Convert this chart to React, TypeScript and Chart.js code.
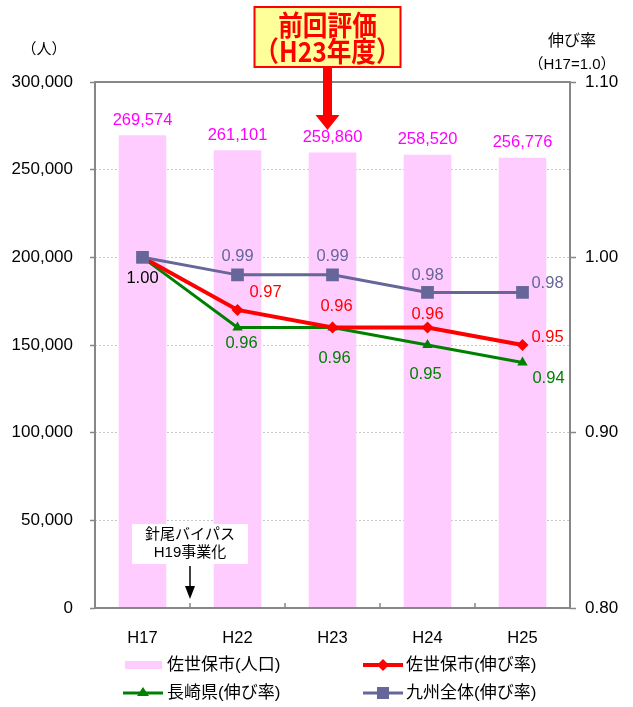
import React, { useEffect, useRef } from 'react';
import { Chart, registerables } from 'chart.js';

Chart.register(...registerables);

const categories = ['H17', 'H22', 'H23', 'H24', 'H25'];
const population = [269574, 261101, 259860, 258520, 256776];
const saseboRate = [1.0, 0.97, 0.96, 0.96, 0.95];
const nagasakiRate = [1.0, 0.96, 0.96, 0.95, 0.94];
const kyushuRate = [1.0, 0.99, 0.99, 0.98, 0.98];
const seriesNames = ['佐世保市(人口)', '佐世保市(伸び率)', '長崎県(伸び率)', '九州全体(伸び率)'];
const leftAxisTitle = '（人）';
const rightAxisTitle = ['伸び率', '（H17=1.0）'];
const calloutText = ['前回評価', '（H23年度）'];
const noteText = ['針尾バイパス', 'H19事業化'];

const FONT = "'Liberation Sans', 'Noto Sans CJK JP', sans-serif";
const PINK = '#FFCCFF';
const MAGENTA = '#FF00FF';
const RED = '#FF0000';
const GREEN = '#008000';
const PURPLE = '#666699';
const AXIS = '#878787';

// label offsets (dx, dy) relative to each point
const saseboOffsets: (number[] | null)[] = [null, [28, -17], [4, -21], [0, -13], [25, -8]];
const nagasakiOffsets: (number[] | null)[] = [null, [4, 16], [2, 31], [-2, 29], [26, 16]];
const kyushuOffsets: (number[] | null)[] = [[0, 21], [0, -18], [0, -18], [0, -17], [25, -9]];

const overlay = {
  id: 'overlay',
  afterDatasetsDraw(chart: any) {
    const ctx = chart.ctx as CanvasRenderingContext2D;
    const { left, right, top, bottom } = chart.chartArea;
    const x = chart.scales.x;
    const y = chart.scales.y;
    const y1 = chart.scales.y1;
    ctx.save();

    // frame
    ctx.strokeStyle = AXIS;
    ctx.lineWidth = 2;
    ctx.strokeRect(left, top, right - left, bottom - top);
    // category boundary ticks
    ctx.lineWidth = 1.5;
    for (let i = 1; i < categories.length; i++) {
      const bx = (x.getPixelForValue(i - 1) + x.getPixelForValue(i)) / 2;
      ctx.beginPath();
      ctx.moveTo(bx, bottom);
      ctx.lineTo(bx, bottom - 5);
      ctx.stroke();
    }

    ctx.textAlign = 'center';
    ctx.textBaseline = 'middle';
    ctx.font = `16.5px ${FONT}`;

    // bar labels
    ctx.fillStyle = MAGENTA;
    population.forEach((v, i) => {
      ctx.fillText(v.toLocaleString('en-US'), x.getPixelForValue(i), y.getPixelForValue(v) - 15);
    });

    const drawLabels = (vals: number[], offs: (number[] | null)[], color: string, firstColor?: string) => {
      vals.forEach((v, i) => {
        const o = offs[i];
        if (!o) return;
        ctx.fillStyle = i === 0 && firstColor ? firstColor : color;
        ctx.fillText(v.toFixed(2), x.getPixelForValue(i) + o[0], y1.getPixelForValue(v) + o[1]);
      });
    };
    drawLabels(kyushuRate, kyushuOffsets, PURPLE, '#000000');
    drawLabels(saseboRate, saseboOffsets, RED);
    drawLabels(nagasakiRate, nagasakiOffsets, GREEN);

    // note box (between H17 and H22)
    const nx = (x.getPixelForValue(0) + x.getPixelForValue(1)) / 2;
    ctx.fillStyle = '#FFFFFF';
    ctx.fillRect(nx - 58, 524, 116, 40);
    ctx.fillStyle = '#000000';
    ctx.font = `15px ${FONT}`;
    ctx.fillText(noteText[0], nx, 535);
    ctx.fillText(noteText[1], nx, 553);
    ctx.strokeStyle = '#000000';
    ctx.lineWidth = 1.5;
    ctx.beginPath();
    ctx.moveTo(nx, 566);
    ctx.lineTo(nx, 588);
    ctx.stroke();
    ctx.beginPath();
    ctx.moveTo(nx - 5, 586);
    ctx.lineTo(nx + 5, 586);
    ctx.lineTo(nx, 599);
    ctx.closePath();
    ctx.fill();

    ctx.restore();
  },
  afterDraw(chart: any) {
    const ctx = chart.ctx as CanvasRenderingContext2D;
    const x = chart.scales.x;
    ctx.save();
    ctx.textBaseline = 'middle';

    // axis titles
    ctx.fillStyle = '#000000';
    ctx.font = `15px ${FONT}`;
    ctx.textAlign = 'center';
    ctx.fillText(leftAxisTitle, 44, 50);
    ctx.font = `16px ${FONT}`;
    ctx.fillText(rightAxisTitle[0], 572, 42);
    ctx.font = `15px ${FONT}`;
    ctx.fillText(rightAxisTitle[1], 572, 65);

    // callout
    const cx = x.getPixelForValue(2) - 5;
    ctx.fillStyle = '#FFFF99';
    ctx.fillRect(cx - 73, 7, 146, 60);
    ctx.strokeStyle = RED;
    ctx.lineWidth = 2;
    ctx.strokeRect(cx - 73, 7, 146, 60);
    ctx.fillStyle = RED;
    ctx.save();
    ctx.translate(cx, 0);
    ctx.scale(0.88, 1);
    ctx.font = `bold 28px 'Noto Sans CJK JP', sans-serif`;
    ctx.fillText(calloutText[0], 0, 25);
    ctx.fillText(calloutText[1], 0, 51);
    ctx.restore();
    ctx.fillRect(cx - 4.5, 68, 9, 48);
    ctx.beginPath();
    ctx.moveTo(cx - 12, 115);
    ctx.lineTo(cx + 12, 115);
    ctx.lineTo(cx, 130);
    ctx.closePath();
    ctx.fill();

    // legend
    ctx.font = `17px ${FONT}`;
    ctx.textAlign = 'left';
    const row1 = 665;
    const row2 = 693;
    // pink bar
    ctx.fillStyle = PINK;
    ctx.fillRect(125, row1 - 4, 37, 8);
    ctx.fillStyle = '#000';
    ctx.fillText(seriesNames[0], 167, row1);
    // red
    ctx.strokeStyle = RED;
    ctx.lineWidth = 4;
    ctx.beginPath();
    ctx.moveTo(363, row1);
    ctx.lineTo(403, row1);
    ctx.stroke();
    ctx.fillStyle = RED;
    ctx.beginPath();
    ctx.moveTo(383, row1 - 6);
    ctx.lineTo(389, row1);
    ctx.lineTo(383, row1 + 6);
    ctx.lineTo(377, row1);
    ctx.closePath();
    ctx.fill();
    ctx.fillStyle = '#000';
    ctx.fillText(seriesNames[1], 406, row1);
    // green
    ctx.strokeStyle = GREEN;
    ctx.lineWidth = 3;
    ctx.beginPath();
    ctx.moveTo(123, row2);
    ctx.lineTo(163, row2);
    ctx.stroke();
    ctx.fillStyle = GREEN;
    ctx.beginPath();
    ctx.moveTo(143, row2 - 6);
    ctx.lineTo(149, row2 + 3);
    ctx.lineTo(137, row2 + 3);
    ctx.closePath();
    ctx.fill();
    ctx.fillStyle = '#000';
    ctx.fillText(seriesNames[2], 167, row2);
    // purple
    ctx.strokeStyle = PURPLE;
    ctx.lineWidth = 3;
    ctx.beginPath();
    ctx.moveTo(363, row2);
    ctx.lineTo(403, row2);
    ctx.stroke();
    ctx.fillStyle = PURPLE;
    ctx.fillRect(377, row2 - 6, 12, 12);
    ctx.fillStyle = '#000';
    ctx.fillText(seriesNames[3], 406, row2);

    ctx.restore();
  },
};

export default function App() {
  const ref = useRef<HTMLCanvasElement | null>(null);
  useEffect(() => {
    if (!ref.current) return;
    const chart = new Chart(ref.current, {
      type: 'bar',
      data: {
        labels: categories,
        datasets: [
          {
            type: 'bar',
            label: seriesNames[0],
            data: population,
            backgroundColor: PINK,
            borderWidth: 0,
            yAxisID: 'y',
            barPercentage: 0.5,
            categoryPercentage: 1,
            order: 10,
          } as any,
          {
            type: 'line',
            label: seriesNames[1],
            data: saseboRate,
            borderColor: RED,
            backgroundColor: RED,
            borderWidth: 4,
            pointStyle: 'rectRot',
            pointRadius: 6,
            pointBorderWidth: 0,
            yAxisID: 'y1',
            order: 2,
          },
          {
            type: 'line',
            label: seriesNames[2],
            data: nagasakiRate,
            borderColor: GREEN,
            backgroundColor: GREEN,
            borderWidth: 3,
            pointStyle: 'triangle',
            pointRadius: 6,
            pointBorderWidth: 0,
            yAxisID: 'y1',
            order: 3,
          },
          {
            type: 'line',
            label: seriesNames[3],
            data: kyushuRate,
            borderColor: PURPLE,
            backgroundColor: PURPLE,
            borderWidth: 3,
            pointStyle: 'rect',
            pointRadius: 9,
            pointBorderWidth: 0,
            yAxisID: 'y1',
            order: 1,
          },
        ],
      },
      options: {
        responsive: false,
        animation: false,
        layout: { padding: { top: 82, left: 0, right: 0, bottom: 59 } },
        plugins: {
          legend: { display: false },
          tooltip: { enabled: false },
        },
        scales: {
          x: {
            type: 'category',
            offset: true,
            grid: { display: false },
            border: { display: false },
            ticks: { color: '#000', font: { size: 16.5, family: FONT }, padding: 13 },
            afterFit: (s: any) => {
              s.height = 40;
              s.paddingLeft = 0;
              s.paddingRight = 0;
            },
          },
          y: {
            position: 'left',
            min: 0,
            max: 300000,
            ticks: {
              stepSize: 50000,
              color: '#000',
              font: { size: 17, family: FONT },
              padding: 17,
              callback: (v: any) => Number(v).toLocaleString('en-US'),
            },
            grid: {
              color: '#C8C8C8',
              lineWidth: 1,
              tickColor: AXIS,
              tickWidth: 1.5,
              tickLength: 5,
              tickBorderDash: [],
            },
            border: { display: false, dash: [2, 2] },
            afterFit: (s: any) => {
              s.width = 95;
              s.paddingTop = 0;
              s.paddingBottom = 0;
            },
          },
          y1: {
            position: 'right',
            min: 0.8,
            max: 1.1,
            ticks: {
              stepSize: 0.1,
              color: '#000',
              font: { size: 17, family: FONT },
              padding: 9,
              callback: (v: any) => Number(v).toFixed(2),
            },
            grid: {
              drawOnChartArea: false,
              tickColor: AXIS,
              tickWidth: 1.5,
              tickLength: 6,
            },
            border: { display: false },
            afterFit: (s: any) => {
              s.width = 63;
              s.paddingTop = 0;
              s.paddingBottom = 0;
            },
          },
        },
      } as any,
      plugins: [overlay],
    });
    return () => chart.destroy();
  }, []);

  return (
    <div style={{ position: 'absolute', left: 0, top: 0, width: 633, height: 707, background: '#fff' }}>
      <canvas ref={ref} width={633} height={707} style={{ width: 633, height: 707, display: 'block' }} />
    </div>
  );
}
